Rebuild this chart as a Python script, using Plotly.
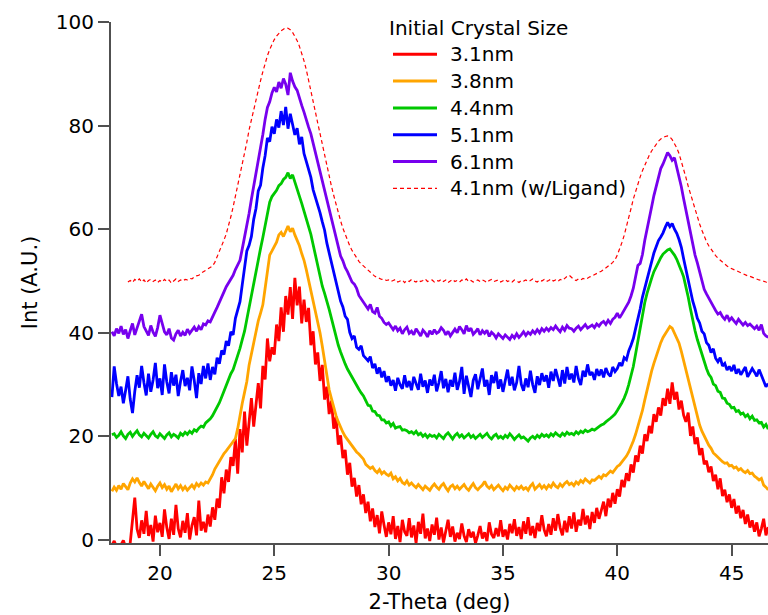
import numpy as np
import plotly.graph_objects as go

# 2-theta scan grid: 17.9 .. 46.6 deg, 0.1 deg steps (288 points)
scan_start, scan_stop, scan_step = 17.9, 46.6, 0.1
two_theta = np.round(np.arange(scan_start, scan_stop + scan_step / 2, scan_step), 2)

labels = ["3.1nm", "3.8nm", "4.4nm", "5.1nm", "6.1nm", "4.1nm (w/Ligand)"]
legend_title = "Initial Crystal Size"

# intensities (A.U., traces offset by 10 each), one row per degree
int_3p1 = [
    -1.0,
    -0.2, -1.3, -1.6, -0.9, -0.1, -1.4, -1.8, -0.6, 4.6, 8.2,
    2.1, 0.4, 3.8, 1.2, 5.6, 0.8, 2.9, -0.3, 4.7, 1.5,
    3.3, 0.6, 5.9, 2.4, 0.2, 4.1, 1.0, 6.8, 2.2, 0.5,
    3.7, 1.4, 5.2, 0.1, 2.8, 4.4, 0.9, 7.6, 1.8, 3.5,
    1.5, 4.9, 2.6, 6.3, 3.9, 8.0, 6.2, 12.1, 9.0, 13.6,
    11.2, 16.0, 14.3, 19.5, 12.8, 21.4, 16.9, 24.8, 18.2, 22.6,
    27.4, 21.9, 26.8, 30.3, 25.4, 33.6, 31.0, 38.9, 34.5, 37.2,
    35.8, 41.6, 38.4, 44.9, 40.2, 47.1, 43.5, 48.8, 42.7, 50.6,
    45.3, 48.9, 41.8, 46.4, 42.1, 44.8, 37.6, 40.3, 33.9, 36.2,
    30.7, 33.8, 27.1, 29.6, 24.3, 26.9, 21.5, 23.8, 18.4, 20.2,
    15.8, 17.4, 12.6, 14.9, 10.3, 12.0, 8.4, 10.6, 6.9, 8.8,
    5.2, 7.4, 3.6, 6.1, 2.5, 4.8, 1.3, 5.5, 2.9, 0.6,
    3.4, 1.1, 4.6, 0.2, 2.7, -0.4, 3.9, 1.6, 0.8, 4.2,
    0.5, 2.8, -0.6, 3.5, 1.2, 5.1, 0.3, 2.2, -0.2, 3.0,
    1.0, 4.3, 0.1, 2.4, -0.5, 1.8, 3.9, 0.6, 2.6, -0.3,
    1.4, 0.2, 3.2, 0.8, -0.4, 2.1, 0.5, 1.6, -0.6, 0.9,
    2.7, 0.3, 1.5, -0.2, 3.4, 1.1, 0.4, 2.3, 0.7, 3.8,
    0.6, 2.0, 0.1, 3.1, 1.3, 4.0, 0.8, 2.5, 0.2, 3.6,
    1.2, 4.4, 0.9, 2.7, 0.4, 3.3, 1.7, 4.8, 2.0, 0.7,
    3.1, 1.0, 4.2, 1.8, 5.0, 2.4, 0.9, 3.7, 1.5, 4.6,
    2.2, 5.3, 1.6, 3.9, 2.8, 6.0, 3.0, 4.7, 2.1, 5.4,
    3.3, 6.2, 4.1, 5.7, 7.4, 4.6, 8.0, 6.3, 9.1, 7.0,
    9.8, 8.4, 11.6, 10.2, 12.9, 11.4, 14.6, 13.0, 16.3, 15.1,
    18.2, 16.7, 20.4, 19.1, 22.0, 20.6, 24.3, 22.8, 25.6, 24.0,
    27.4, 25.9, 29.2, 26.3, 30.4, 27.1, 28.6, 25.2, 26.9, 24.1,
    22.8, 24.6, 20.1, 21.9, 18.5, 19.8, 16.4, 17.7, 14.6, 15.3,
    13.1, 14.2, 11.4, 12.6, 9.8, 11.9, 8.5, 9.7, 7.3, 8.8,
    6.2, 7.9, 5.1, 6.6, 4.2, 5.8, 3.1, 4.9, 2.4, 3.8,
    1.6, 3.4, 0.7, 2.2, 4.1, 0.9, 2.5,
]

int_3p8 = [
    9.4,
    10.2, 9.6, 10.5, 9.8, 10.9, 10.3, 9.7, 11.0, 11.8, 11.2,
    12.0, 11.1, 10.4, 11.3, 10.6, 9.9, 10.8, 10.2, 9.5, 10.4,
    11.0, 10.1, 10.7, 9.8, 10.4, 9.3, 10.2, 10.8, 9.9, 10.5,
    9.7, 10.3, 9.6, 10.1, 10.6, 10.0, 10.9, 10.4, 11.0, 10.6,
    11.2, 11.0, 11.7, 12.6, 13.7, 14.5, 15.2, 15.8, 16.7, 17.2,
    17.8, 18.3, 18.8, 19.6, 21.5, 24.2, 26.4, 28.5, 30.6, 33.8,
    35.9, 38.3, 40.4, 42.3, 43.8, 45.4, 48.6, 52.0, 55.0, 55.8,
    56.7, 57.5, 58.9, 59.4, 58.6, 59.8, 60.6, 59.5, 60.2, 58.9,
    58.0, 56.8, 55.3, 54.0, 52.2, 50.2, 48.1, 46.4, 44.0, 42.6,
    40.0, 37.4, 34.6, 31.9, 29.0, 27.3, 25.6, 24.0, 22.8, 21.6,
    20.8, 20.0, 19.4, 18.6, 18.2, 17.5, 17.0, 16.6, 16.0, 15.6,
    14.6, 14.2, 13.8, 14.1, 13.4, 13.0, 13.6, 12.8, 13.2, 12.7,
    12.4, 12.9, 11.8, 12.2, 11.4, 11.9, 11.1, 10.8, 11.4, 10.6,
    11.0, 10.5, 10.1, 10.7, 10.2, 9.7, 10.4, 10.0, 9.6, 10.3,
    10.8, 10.2, 9.8, 10.5, 10.9, 10.1, 9.5, 10.3, 10.6, 9.9,
    10.4, 9.8, 10.2, 10.7, 10.0, 9.6, 10.3, 10.9, 10.1, 9.7,
    10.2, 10.6, 11.3, 10.4, 10.0, 10.5, 9.7, 10.1, 10.6, 10.0,
    9.5, 10.2, 9.8, 10.6, 10.1, 9.6, 10.3, 9.9, 10.4, 9.8,
    10.1, 9.6, 10.4, 10.9, 9.8, 10.3, 10.7, 10.0, 10.5, 9.9,
    10.6, 10.2, 11.0, 10.4, 10.1, 10.8, 10.3, 10.9, 11.3, 10.7,
    11.0, 10.5, 11.2, 10.8, 11.5, 11.1, 11.8, 11.4, 11.0, 11.6,
    11.5, 11.9, 12.3, 11.9, 12.6, 12.4, 12.9, 13.3, 13.0, 13.7,
    14.2, 14.5, 15.0, 15.6, 16.2, 17.0, 17.9, 19.1, 20.4, 21.8,
    23.3, 25.0, 27.0, 29.0, 30.9, 32.6, 34.1, 35.5, 36.9, 38.1,
    39.1, 39.8, 40.5, 41.2, 40.9, 40.0, 39.2, 38.0, 36.4, 34.6,
    33.0, 31.4, 29.6, 27.8, 25.8, 24.0, 22.2, 21.0, 20.0, 19.1,
    18.3, 17.7, 16.8, 16.4, 15.9, 15.6, 15.1, 14.8, 14.9, 14.3,
    14.4, 13.9, 14.1, 13.5, 13.8, 13.3, 13.0, 13.4, 12.8, 12.9,
    12.3, 12.0, 11.6, 11.9, 10.6, 10.2, 9.7,
]

int_4p4 = [
    20.3,
    20.5, 19.8, 20.2, 20.9, 20.1, 19.6, 20.4, 20.8, 20.0, 20.6,
    21.1, 20.3, 19.9, 20.6, 20.2, 19.7, 20.4, 20.9, 20.1, 19.8,
    20.5, 20.0, 19.6, 20.3, 20.7, 19.9, 20.4, 20.1, 19.7, 20.6,
    20.2, 20.8, 20.4, 21.0, 20.6, 21.3, 21.0, 21.6, 22.0, 21.8,
    22.6, 23.0, 23.4, 24.0, 24.8, 25.6, 26.5, 27.6, 28.8, 29.9,
    31.0, 32.1, 32.9, 34.2, 35.6, 37.0, 38.7, 40.3, 42.6, 45.0,
    47.4, 49.6, 51.8, 54.2, 56.3, 58.4, 60.5, 63.2, 65.2, 66.3,
    66.9, 67.5, 68.4, 68.8, 69.6, 70.0, 70.9, 69.8, 70.5, 69.2,
    68.0, 66.4, 65.0, 63.5, 62.0, 60.6, 59.0, 57.0, 55.0, 52.6,
    50.4, 49.0, 47.6, 46.2, 44.5, 42.8, 41.0, 39.4, 37.6, 36.3,
    35.0, 34.0, 33.0, 32.2, 31.3, 30.6, 29.8, 29.1, 28.4, 27.8,
    26.9, 26.0, 25.9, 24.9, 24.8, 24.1, 24.0, 23.2, 23.2, 22.6,
    22.8, 22.0, 22.5, 21.6, 21.8, 21.9, 21.2, 21.3, 21.1, 20.7,
    20.9, 20.5, 21.0, 20.3, 20.6, 20.0, 20.4, 19.8, 20.3, 20.0,
    20.2, 19.7, 20.4, 20.0, 19.6, 20.3, 20.7, 20.1, 19.5, 20.2,
    20.6, 19.9, 20.3, 19.7, 20.1, 20.5, 19.8, 20.2, 19.6, 20.0,
    20.4, 19.8, 20.2, 20.6, 19.9, 19.5, 20.1, 20.4, 19.7, 20.0,
    19.6, 20.2, 19.8, 20.5, 20.0, 19.4, 19.9, 20.3, 19.7, 19.9,
    19.5, 19.1, 19.7, 20.0, 19.6, 20.2, 19.8, 20.4, 20.0, 20.3,
    19.9, 20.5, 20.1, 20.7, 20.3, 20.0, 20.6, 20.2, 20.8, 20.4,
    20.6, 20.3, 20.9, 20.5, 21.0, 20.7, 21.2, 20.9, 21.1, 21.4,
    21.2, 21.6, 21.9, 22.2, 22.4, 22.8, 23.1, 23.5, 23.9, 24.3,
    25.0, 25.7, 26.5, 27.4, 28.5, 30.0, 31.6, 33.5, 35.9, 38.4,
    41.0, 43.6, 45.8, 47.6, 49.2, 50.5, 51.8, 52.8, 53.8, 54.5,
    55.2, 55.6, 56.0, 56.2, 55.7, 55.0, 54.2, 53.2, 52.0, 50.8,
    49.0, 46.9, 44.6, 42.2, 40.4, 38.7, 37.2, 35.8, 34.2, 33.1,
    32.0, 31.4, 30.1, 29.8, 28.7, 28.5, 27.4, 27.3, 26.4, 26.2,
    25.5, 25.6, 24.8, 25.0, 24.3, 24.5, 23.8, 24.2, 23.4, 23.9,
    23.1, 23.2, 22.6, 22.7, 21.8, 22.3, 21.4,
]

int_5p1 = [
    27.6,
    33.5, 30.2, 27.8, 29.6, 26.4, 28.9, 31.6, 27.2, 24.5, 28.7,
    31.8, 29.4, 33.6, 30.4, 27.9, 32.1, 28.6, 30.9, 34.2, 29.3,
    31.2, 28.0, 33.9, 30.5, 28.3, 32.4, 29.8, 31.9, 27.8, 30.6,
    32.8, 29.7, 31.3, 28.9, 33.5, 30.8, 27.4, 32.2, 30.1, 33.6,
    31.2, 34.1, 30.9, 33.4, 32.0, 35.2, 34.0, 36.6, 35.8, 38.4,
    37.5, 40.2, 39.6, 42.8, 44.6, 46.0, 49.3, 52.5, 55.8, 56.9,
    58.6, 61.9, 64.0, 67.4, 68.5, 71.8, 74.2, 77.6, 76.9, 79.8,
    78.4, 81.2, 79.6, 82.8, 80.1, 83.6, 79.4, 82.3, 80.0, 78.2,
    79.5, 76.4, 77.8, 74.6, 73.1, 71.7, 70.0, 67.6, 66.2, 64.8,
    63.2, 61.4, 59.8, 57.3, 55.4, 53.6, 51.5, 50.2, 47.8, 46.1,
    45.0, 43.2, 42.6, 40.1, 38.9, 39.4, 37.2, 36.8, 37.5, 35.6,
    35.1, 34.6, 35.4, 33.2, 34.0, 32.1, 33.3, 31.4, 32.6, 30.5,
    31.6, 29.8, 30.9, 28.8, 31.3, 30.0, 29.2, 31.8, 29.5, 30.7,
    28.9, 31.5, 30.2, 29.0, 32.1, 29.6, 30.8, 28.4, 31.0, 29.8,
    31.9, 28.7, 30.4, 32.6, 29.3, 31.1, 28.5, 30.9, 29.6, 32.3,
    29.0, 30.6, 33.4, 28.2, 31.7, 29.4, 27.6, 30.8, 32.0, 29.1,
    31.4, 33.1, 29.6, 30.9, 28.0, 31.8, 30.3, 32.5, 29.2, 31.0,
    28.6, 30.7, 32.9, 29.8, 31.5, 28.9, 30.4, 33.6, 30.1, 28.8,
    31.2, 29.5, 32.7, 30.0, 28.4, 31.6, 29.9, 32.2, 30.6, 31.8,
    29.4, 32.5, 30.7, 33.0, 31.1, 29.6, 32.8, 30.2, 33.4, 31.0,
    32.1, 30.4, 33.6, 31.2, 29.9, 32.7, 31.5, 33.9, 31.8, 32.4,
    30.9, 33.0, 31.7, 32.9, 31.4, 33.2, 32.1, 31.6, 33.4, 32.5,
    33.1, 34.2, 33.6, 35.2, 34.8, 36.5, 37.6, 38.9, 40.8, 42.6,
    44.6, 46.9, 48.7, 50.6, 52.4, 54.0, 55.4, 56.6, 57.8, 58.5,
    59.3, 60.4, 61.3, 60.5, 61.1, 60.0, 59.2, 58.0, 56.5, 54.3,
    52.1, 49.8, 48.3, 46.1, 44.6, 42.8, 41.9, 40.3, 39.8, 38.1,
    37.6, 36.2, 36.9, 35.1, 34.4, 35.2, 33.6, 34.1, 32.8, 33.5,
    32.6, 33.8, 32.1, 33.0, 31.9, 32.7, 33.4, 31.5, 32.2, 33.1,
    32.4, 31.6, 32.9, 31.8, 30.6, 29.6, 30.2,
]

int_6p1 = [
    40.2,
    39.4, 40.8, 39.9, 41.3, 39.7, 40.6, 38.9, 40.4, 41.8, 39.6,
    40.9, 42.1, 43.6, 41.2, 40.3, 39.5, 41.4, 40.1, 39.3, 41.0,
    43.4, 41.5, 40.2, 39.6, 40.8, 39.0, 38.6, 39.8, 40.5, 39.4,
    40.1, 39.5, 40.7, 39.9, 40.4, 41.1, 40.3, 41.2, 40.6, 41.7,
    41.5, 42.3, 42.1, 43.2, 44.0, 44.9, 45.8, 46.7, 47.9, 48.9,
    49.6, 50.5, 51.1, 52.2, 53.0, 54.0, 56.2, 58.3, 60.4, 63.1,
    65.8, 68.2, 70.5, 73.4, 75.6, 78.3, 81.2, 83.5, 84.6, 86.3,
    87.4, 86.5, 88.4, 87.2, 89.1, 88.0, 85.9, 90.2, 88.6, 87.5,
    86.8, 85.2, 83.9, 82.6, 81.0, 79.7, 78.4, 76.6, 74.6, 72.9,
    70.9, 69.1, 67.3, 65.4, 63.5, 61.8, 60.0, 58.6, 56.4, 54.8,
    53.9, 52.6, 51.8, 50.9, 49.8, 49.4, 48.6, 47.2, 46.5, 45.9,
    45.2, 44.6, 45.5, 44.1, 43.8, 44.9, 43.2, 42.8, 42.0, 41.6,
    41.9, 41.1, 40.6, 41.3, 40.4, 40.9, 39.8, 40.6, 41.1, 39.9,
    40.3, 39.6, 40.8, 40.1, 39.4, 40.5, 40.0, 39.2, 40.4, 39.7,
    40.6, 39.9, 40.2, 41.0, 40.5, 39.6, 40.3, 39.4, 40.1, 40.7,
    40.0, 41.2, 40.6, 39.8, 41.4, 40.3, 40.9, 39.7, 40.2, 40.8,
    39.6, 40.4, 39.9, 40.5, 39.3, 40.1, 39.7, 39.0, 39.8, 39.4,
    38.9, 39.6, 39.2, 38.7, 39.5, 39.0, 39.8, 39.1, 39.6, 40.2,
    39.5, 40.1, 39.7, 40.4, 39.9, 40.6, 40.0, 40.8, 40.3, 40.9,
    40.4, 41.0, 40.6, 41.3, 40.7, 40.2, 41.1, 40.5, 41.4, 40.9,
    40.8, 40.3, 40.9, 41.3, 40.6, 41.1, 41.6, 40.9, 41.2, 41.5,
    41.0, 41.7, 41.3, 41.9, 42.2, 41.6, 42.4, 41.8, 42.6, 43.0,
    43.8, 42.9, 43.6, 44.3, 45.0, 45.9, 47.1, 48.6, 50.8, 53.0,
    53.4, 55.1, 57.8, 60.2, 62.1, 64.3, 66.5, 68.4, 70.0, 71.7,
    72.6, 73.6, 74.8, 74.2, 73.3, 73.8, 72.1, 70.3, 68.2, 65.9,
    63.8, 61.4, 59.3, 57.0, 55.0, 53.5, 51.6, 50.0, 48.4, 47.5,
    46.6, 45.7, 45.1, 44.3, 43.6, 43.9, 43.1, 42.6, 43.4, 42.4,
    42.9, 42.3, 41.8, 42.6, 42.1, 41.5, 42.0, 41.4, 41.7, 41.2,
    40.8, 41.3, 40.5, 41.6, 39.9, 39.4, 39.1,
]

int_4p1_ligand = [
    None,
    None, None, None, None, None, None, 49.8, 50.1, 49.7, 50.3,
    50.0, 50.4, 49.8, 50.2, 49.6, 50.1, 50.3, 49.9, 50.2, 49.7,
    50.1, 49.8, 50.3, 49.9, 50.2, 49.6, 50.0, 50.4, 49.9, 50.2,
    50.0, 50.3, 50.2, 50.5, 50.4, 50.8, 51.0, 51.1, 51.5, 51.8,
    52.0, 52.3, 52.6, 52.9, 53.6, 54.6, 55.6, 56.7, 57.9, 59.1,
    60.6, 62.4, 64.3, 66.3, 68.3, 70.3, 72.4, 74.5, 76.8, 79.2,
    81.2, 83.3, 85.3, 87.1, 88.7, 90.4, 92.1, 93.5, 94.7, 95.8,
    96.6, 97.3, 97.9, 98.3, 98.6, 98.9, 98.8, 98.5, 98.0, 97.3,
    96.4, 95.3, 94.0, 92.5, 90.8, 88.9, 86.9, 84.8, 82.6, 80.5,
    78.4, 76.3, 74.2, 72.2, 70.2, 68.3, 66.5, 64.7, 63.1, 61.6,
    60.2, 59.0, 57.8, 56.8, 55.9, 55.1, 54.4, 53.8, 53.3, 52.9,
    52.5, 52.0, 51.6, 51.2, 50.9, 50.7, 50.5, 50.3, 50.4, 50.1,
    50.2, 49.9, 50.1, 50.3, 49.8, 50.0, 50.2, 49.7, 50.1, 49.9,
    50.3, 50.0, 49.8, 50.2, 49.9, 50.1, 50.4, 49.9, 50.0, 50.2,
    49.8, 50.1, 50.0, 50.3, 49.9, 50.2, 49.7, 50.0, 50.3, 49.9,
    50.1, 49.8, 50.2, 50.0, 50.4, 49.9, 50.1, 49.8, 50.0, 50.2,
    49.9, 50.2, 50.0, 49.7, 50.1, 50.3, 49.9, 50.0, 50.2, 49.8,
    50.0, 50.3, 49.9, 50.1, 49.8, 50.2, 50.0, 49.7, 50.1, 50.0,
    50.2, 49.9, 50.1, 50.4, 50.0, 49.8, 50.2, 50.0, 50.3, 49.9,
    50.1, 50.4, 50.0, 50.2, 49.9, 50.3, 50.1, 50.5, 50.9, 51.1,
    50.6, 50.3, 50.1, 50.4, 50.2, 50.5, 50.3, 50.6, 50.8, 51.0,
    51.2, 51.4, 51.6, 51.9, 52.2, 52.5, 52.8, 53.2, 53.6, 54.1,
    55.0, 56.1, 57.4, 58.8, 60.4, 62.2, 64.0, 65.8, 67.4, 68.8,
    70.1, 71.3, 72.4, 73.4, 74.3, 75.1, 75.8, 76.5, 77.0, 77.4,
    77.7, 77.9, 78.0, 77.8, 77.3, 76.6, 75.7, 74.6, 73.2, 71.6,
    70.0, 68.3, 66.8, 65.1, 63.7, 62.3, 61.0, 59.8, 58.6, 57.6,
    56.8, 56.1, 55.5, 54.9, 54.4, 54.0, 53.6, 53.2, 52.9, 52.6,
    52.4, 52.1, 51.9, 51.7, 51.6, 51.4, 51.2, 51.0, 50.9, 50.7,
    50.5, 50.4, 50.2, 50.1, 49.9, 49.8, 49.7,
]

series = [int_3p1, int_3p8, int_4p4, int_5p1, int_6p1, int_4p1_ligand]
colors = ["#FF0000", "#FFA500", "#00C800", "#0000FF", "#7700EE", "#FF0000"]

for s in series:
    assert len(s) == len(two_theta), (len(s), len(two_theta))

axis_color = "#505050"
font_family = "DejaVu Sans"
solid_width, dashed_width, dash_pattern = 2.8, 1.2, "4px,3px"

# figure geometry (pixels) used to place the key box
W, H = 768, 615
M_L, M_R, M_T, M_B = 111, 0, 22, 72
plot_w, plot_h = W - M_L - M_R, H - M_T - M_B


def paper_x(px):
    return (px - M_L) / plot_w


def paper_y(py):
    return (H - M_B - py) / plot_h


fig = go.Figure()
for name, values, color in zip(labels, series, colors):
    dashed = "Ligand" in name
    fig.add_trace(go.Scatter(
        x=two_theta,
        y=values,
        mode="lines",
        name=name,
        showlegend=False,
        line=dict(color=color, width=dashed_width if dashed else solid_width,
                  dash=dash_pattern if dashed else "solid"),
        connectgaps=False,
    ))

# key: title, then one sample line + label per trace
key_left, key_sample_end, key_text_x = 393, 437, 448
key_title_y, key_first_y, key_step = 28, 54.3, 26.8

shapes, annotations = [], []
annotations.append(dict(
    xref="paper", yref="paper", x=paper_x(key_left - 6), y=paper_y(key_title_y),
    xanchor="left", yanchor="middle", text=legend_title, showarrow=False,
    font=dict(family=font_family, size=20, color="black"),
))
for i, (name, color) in enumerate(zip(labels, colors)):
    dashed = "Ligand" in name
    yy = paper_y(key_first_y + i * key_step)
    shapes.append(dict(
        type="line", xref="paper", yref="paper",
        x0=paper_x(key_left), x1=paper_x(key_sample_end), y0=yy, y1=yy,
        line=dict(color=color, width=dashed_width if dashed else 3,
                  dash=dash_pattern if dashed else "solid"),
    ))
    annotations.append(dict(
        xref="paper", yref="paper", x=paper_x(key_text_x), y=yy,
        xanchor="left", yanchor="middle", text=name, showarrow=False,
        font=dict(family=font_family, size=20, color="black"),
    ))

fig.update_layout(
    width=W,
    height=H,
    margin=dict(l=M_L, r=M_R, t=M_T, b=M_B),
    paper_bgcolor="white",
    plot_bgcolor="white",
    font=dict(family=font_family, size=20, color="black"),
    showlegend=False,
    shapes=shapes,
    annotations=annotations,
    xaxis=dict(
        range=[17.86, 46.59],
        tickvals=[20, 25, 30, 35, 40, 45],
        ticks="outside",
        ticklen=11,
        tickwidth=2,
        tickcolor=axis_color,
        showline=True,
        linewidth=2,
        linecolor=axis_color,
        showgrid=False,
        zeroline=False,
        tickfont=dict(size=20),
        title=dict(text="2-Theta (deg)", font=dict(size=21), standoff=10),
    ),
    yaxis=dict(
        range=[-0.58, 100],
        tickvals=[0, 20, 40, 60, 80, 100],
        ticks="outside",
        ticklen=11,
        tickwidth=2,
        tickcolor=axis_color,
        showline=True,
        linewidth=2,
        linecolor=axis_color,
        showgrid=False,
        zeroline=False,
        tickfont=dict(size=20),
        title=dict(text="Int (A.U.)", font=dict(size=21), standoff=12),
    ),
)

fig.write_html("out.html")
